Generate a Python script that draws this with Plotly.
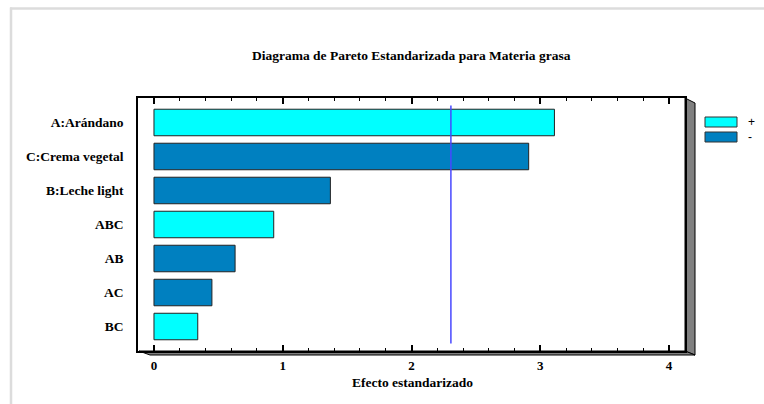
import plotly.graph_objects as go

# Standardized effects for the fat content (Materia grasa) model
effects = ["A:Arándano", "C:Crema vegetal", "B:Leche light", "ABC", "AB", "AC", "BC"]
std_effect = [3.11, 2.91, 1.37, 0.93, 0.63, 0.45, 0.34]
effect_sign = ["+", "-", "-", "+", "-", "-", "+"]
critical_t = 2.306
x_ticks = [0, 1, 2, 3, 4]

W, H = 764, 404
PL, PR, PT, PB = 138, 685, 98, 351  # plot frame in pixels

COL_POS = "#00FFFF"
COL_NEG = "#0080C0"
SERIF = "Liberation Serif"


def fx(p):
    return (p - PL) / (PR - PL)


def fy(p):
    return 1 - (p - PT) / (PB - PT)


colors = [COL_POS if s == "+" else COL_NEG for s in effect_sign]

fig = go.Figure()
fig.add_trace(go.Bar(
    x=std_effect,
    y=effects,
    orientation="h",
    base=0,
    width=0.78,
    marker=dict(color=colors, line=dict(color="#222222", width=1)),
    showlegend=False,
    hoverinfo="x+y",
))

shapes = []
# critical value reference line
shapes.append(dict(type="line", xref="x", yref="y", x0=critical_t, x1=critical_t,
                   y0=-0.5, y1=6.5, line=dict(color="#4848FF", width=1.5)))
# 3D depth of the frame: right wall and floor
shapes.append(dict(type="path", xref="paper", yref="paper",
                   path=f"M {fx(PR)},{fy(PT)} L {fx(PR + 10)},{fy(PT + 5)} L {fx(PR + 10)},{fy(PB + 4)} L {fx(PR)},{fy(PB)} Z",
                   fillcolor="#808080", line=dict(color="black", width=1), layer="below"))
shapes.append(dict(type="path", xref="paper", yref="paper",
                   path=f"M {fx(PL + 1)},{fy(PB)} L {fx(PR)},{fy(PB)} L {fx(PR + 10)},{fy(PB + 4)} L {fx(PL + 12)},{fy(PB + 4)} Z",
                   fillcolor="#808080", line=dict(color="black", width=1), layer="below"))
# outer panel border
shapes.append(dict(type="line", xref="paper", yref="paper", x0=fx(10), x1=fx(W + 5),
                   y0=fy(8.5), y1=fy(8.5), line=dict(color="#DCDCDC", width=2.5)))
shapes.append(dict(type="line", xref="paper", yref="paper", x0=fx(11), x1=fx(11),
                   y0=fy(7.5), y1=fy(H + 5), line=dict(color="#DCDCDC", width=2.5)))
# legend swatches
for i, col in enumerate([COL_POS, COL_NEG]):
    y0 = 117 + 15 * i
    shapes.append(dict(type="rect", xref="paper", yref="paper",
                       x0=fx(705), x1=fx(737), y0=fy(y0), y1=fy(y0 + 10),
                       fillcolor=col, line=dict(color="#333333", width=1)))

annotations = [
    dict(text="<b>Diagrama de Pareto Estandarizada para Materia grasa</b>",
         xref="paper", yref="paper", x=fx(411), y=fy(55), showarrow=False,
         xanchor="center", yanchor="middle", font=dict(family=SERIF, size=13.5, color="black")),
    dict(text="<b>Efecto estandarizado</b>",
         xref="paper", yref="paper", x=fx(412), y=fy(382), showarrow=False,
         xanchor="center", yanchor="middle", font=dict(family=SERIF, size=13.5, color="black")),
]
for i, s in enumerate(["+", "-"]):
    annotations.append(dict(text=s, xref="paper", yref="paper", x=fx(746), y=fy(122 + 15 * i),
                            showarrow=False, xanchor="left", yanchor="middle",
                            font=dict(family="Liberation Sans", size=12, color="black")))

fig.update_layout(
    width=W, height=H,
    margin=dict(l=PL, r=W - PR, t=PT, b=H - PB, pad=0),
    paper_bgcolor="white", plot_bgcolor="white",
    bargap=0.2,
    shapes=shapes,
    annotations=annotations,
    xaxis=dict(
        range=[-0.124, 4.124],
        tickvals=x_ticks,
        ticktext=[f"<b>{v}</b>" for v in x_ticks],
        ticks="inside", ticklen=6, tickwidth=1.5, tickcolor="black",
        minor=dict(dtick=0.2, tick0=0, ticks="inside", ticklen=3, tickwidth=1, tickcolor="black", showgrid=False),
        showgrid=False, zeroline=False,
        showline=True, linecolor="black", linewidth=1.5, mirror="allticks",
        tickfont=dict(family=SERIF, size=13, color="black"),
        ticklabelstandoff=2,
    ),
    yaxis=dict(
        range=[6.72, -0.72],
        categoryorder="array", categoryarray=effects,
        tickvals=effects,
        ticktext=[f"<b>{e}</b>" for e in effects],
        ticks="", showgrid=False, zeroline=False,
        showline=True, linecolor="black", linewidth=1.5, mirror=True,
        tickfont=dict(family=SERIF, size=13.5, color="black"),
        ticklabelstandoff=10,
    ),
)

fig.write_html("out.html")
